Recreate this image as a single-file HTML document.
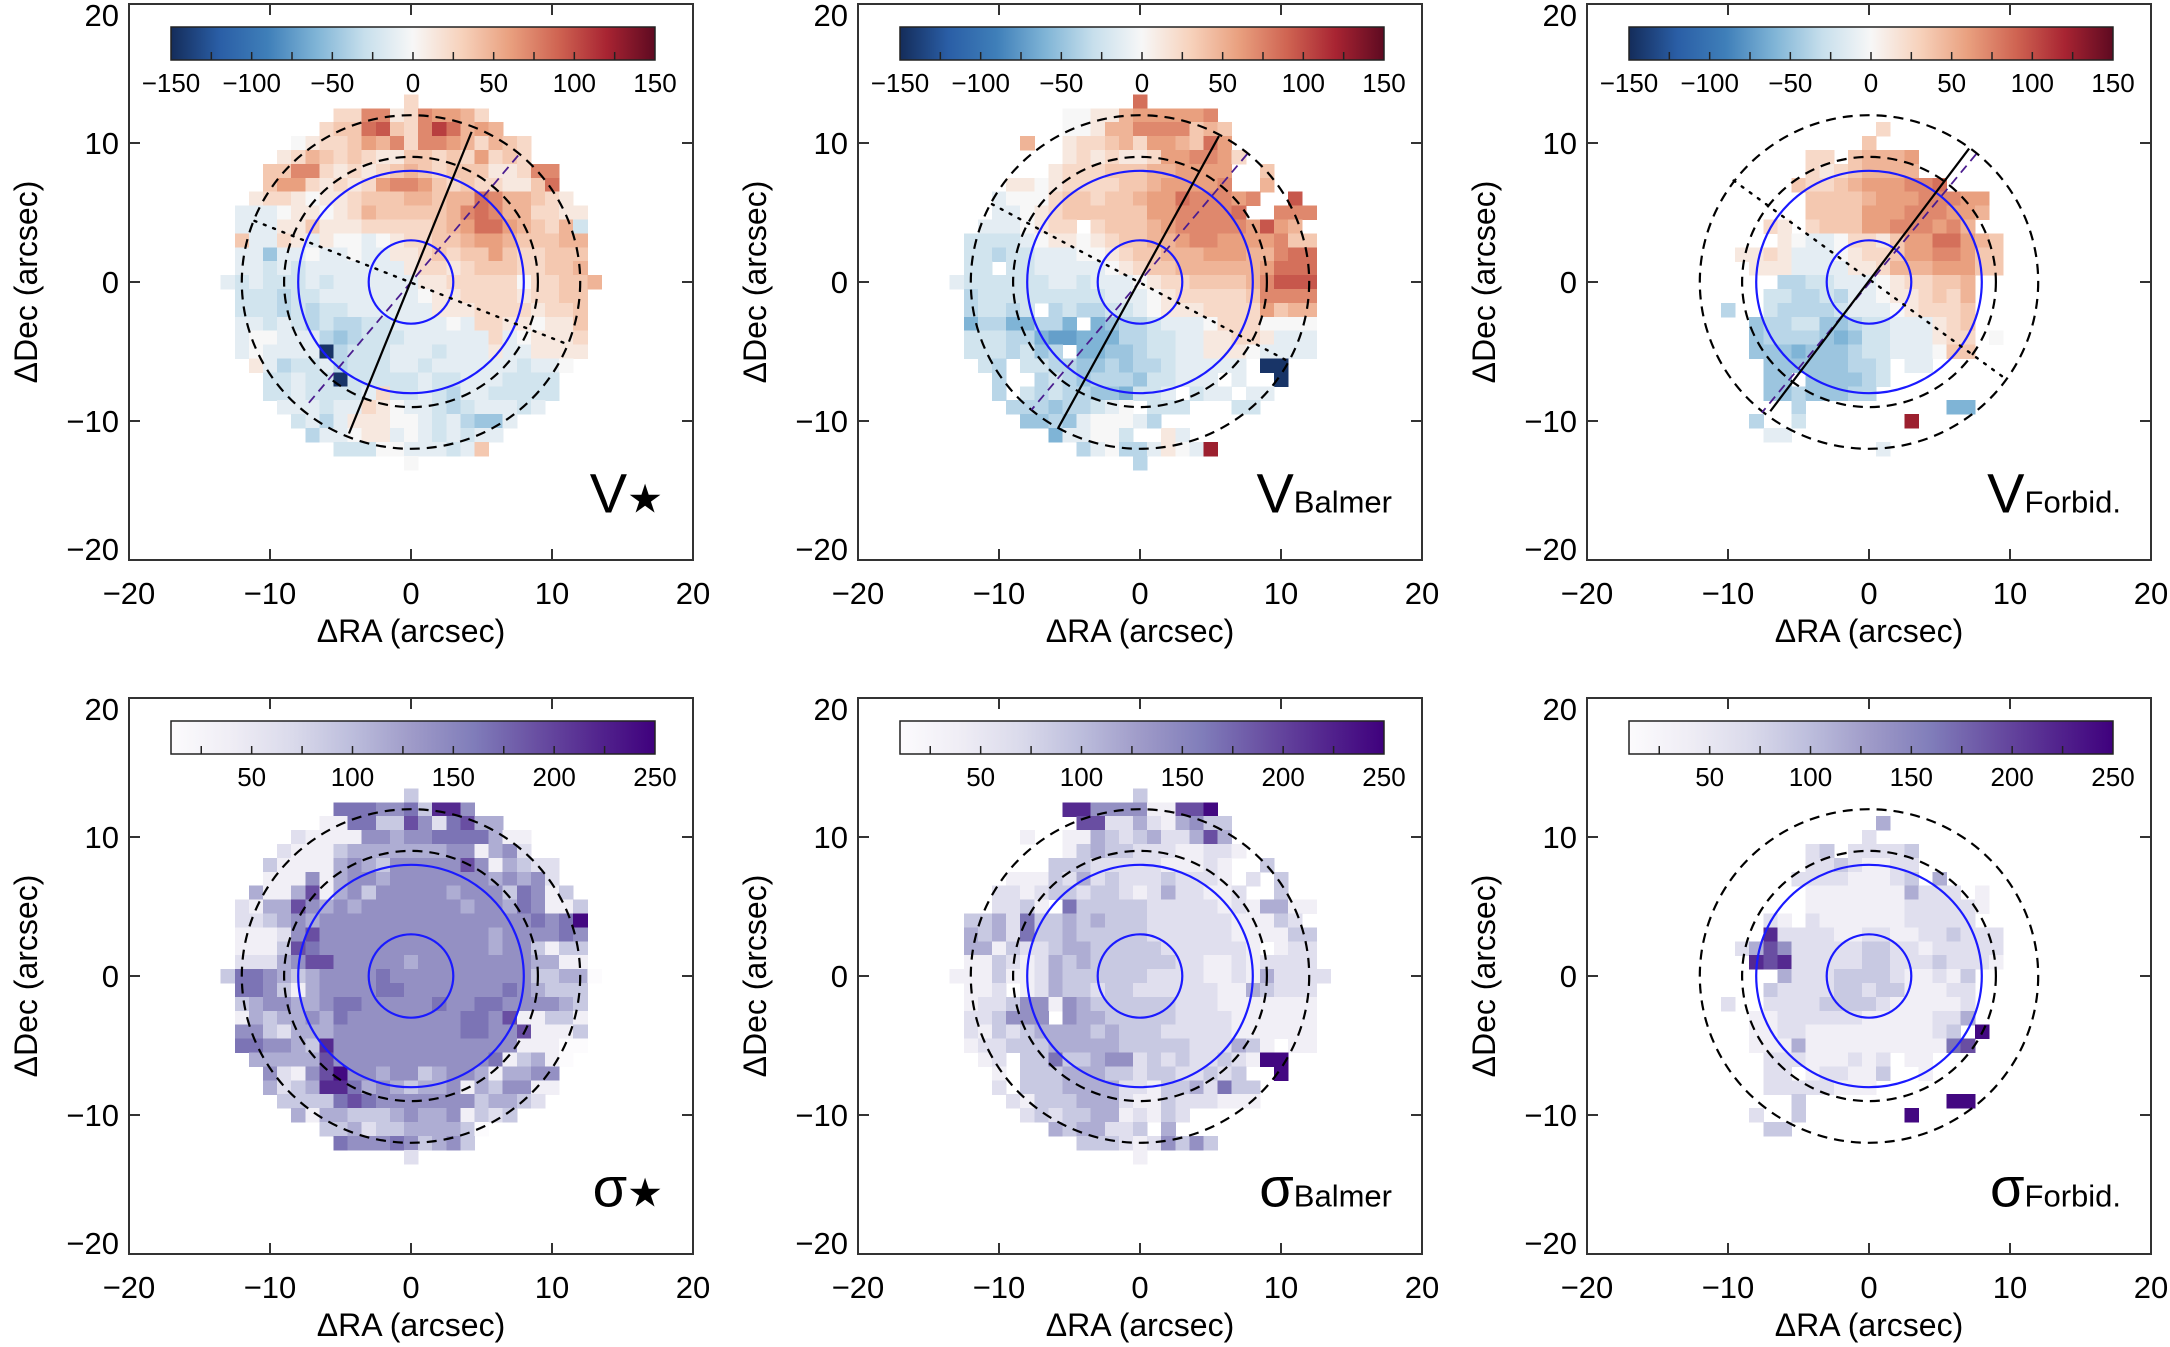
<!DOCTYPE html>
<html><head><meta charset="utf-8"><style>
html,body{margin:0;padding:0;background:#fff;}
svg{display:block;}
text{font-family:"Liberation Sans Narrow","Liberation Sans",sans-serif;fill:#000;}
</style></head><body>
<svg id="fig" xmlns="http://www.w3.org/2000/svg" width="2170" height="1347" viewBox="0 0 2170 1347">
<defs>
<linearGradient id="gv" x1="0" x2="1" y1="0" y2="0">
<stop offset="0" stop-color="#142c5a"/><stop offset="0.1" stop-color="#2a5ea6"/><stop offset="0.2" stop-color="#3f7fb9"/><stop offset="0.3" stop-color="#7fb4d6"/><stop offset="0.4" stop-color="#c7dfec"/><stop offset="0.5" stop-color="#f7f7f7"/><stop offset="0.6" stop-color="#f7d2bc"/><stop offset="0.7" stop-color="#e9a07f"/><stop offset="0.8" stop-color="#cf6452"/><stop offset="0.9" stop-color="#a82432"/><stop offset="1" stop-color="#5e0a21"/>
</linearGradient>
<linearGradient id="gs" x1="0" x2="1" y1="0" y2="0">
<stop offset="0" stop-color="#fcfbfd"/><stop offset="0.125" stop-color="#efedf5"/><stop offset="0.25" stop-color="#dadaeb"/><stop offset="0.375" stop-color="#bcbddc"/><stop offset="0.5" stop-color="#9e9ac8"/><stop offset="0.625" stop-color="#807dba"/><stop offset="0.75" stop-color="#6a51a3"/><stop offset="0.875" stop-color="#54278f"/><stop offset="1" stop-color="#3f007d"/>
</linearGradient>
</defs>
</svg>
<script>
// ---- data: rows from y=13 (top) to y=-13; segments "xStart:levels"
const vStarRows = ["0:2","-5:22661265542","-6:2337832697454","-8:01223546266542432","-9:124323211332325232","-10:336621212343233311266","-10:355212125665323221137","-11:12210112333443447644321","-12:aaa0110124333334676442211","-12:aaa113111222223457754324b","-12:3aa21a100a012233455433344","-12:aadaa0aa0aa11232335322333","-12:aababaaaaaaa1221233322334","-13:ababbbabaaaaaa1122222022334","-12:bbbcbbaaaaaaa011222212233","-12:bbbcbcbbaaaaaa11122221223","-12:aababcbccbbaaaa0a22110113","-12:a00aaacdcbbbaaaaaa2a01112","-12:a0aaaaZcbbbaaabaaa1aa1111","-11:1acbbacbbbaabaaaaaabaa0","-10:bbabbZbbbbbabbaaabbbb","-10:bbabbbba2bbabcaabbbbb","-9:aaabaa210aabcbaaaba","-8:baca11100abacdda","-7:caa011a0ababaa","-5:bbb00aaaba3","0:0"];
const vBalRows = ["0:7","-5:00114555556","-5:001446666343","-8:4 -5:122342554375","-5:1212112556652","-6:1222333445555 9:3","-9:1101222233455556 9:4","-10:a000233233455766656..8","-10:aa0123333335566667..666","-11:aaa0122.233345666665854","-12:bbbba01101233445665555633","-12:bbcbbaaa00123344455544677","-12:bb.bbaaaaa012334444445777","-13:abbbbbbaabaaa0122333346888","-12:cbbbbbbbbbaaa012222236666","-12:cbbcb.cbccbba011122225344","-12:ecceecce.edccbaaa02220000","-12:bbbcceffeeeccbbaa11221aaa","-12:bbbcbdc.eeddcbbaa1110aaaa","-11:bc.bbccddcdccbaaaaa.ZZ","-10:c..cbcdcccdbbaaa.a..Z","-10:c.bcbccddebba.baa.aa","-9:cccdccba0.bbb...bb","-8:ddcda000ac","-6:eaa00b..1a","-4:ca0cca10aR","0:c"];
const vForRows = ["","","1:2","0:3","-4:22.34445","-4:21234444","-5:32234555667","-4:3333455566655","-4:3333555666554","-7:21.233355666564","-6:10aa022135577543","-9:1121aaa012235566533","-8:111aaaa11244455533","-6:ccbbaaa0122334","-7:bbccbcaa0112324","-10:c -7:bccccbaaa012223","-8:dccbbddcbbaaa123","-8:dccccdedbbaaa122.0","-8:dddedddcbbaaa033","-7:ddddddccb.aa","-7:dd.ddddcb","-7:ddcdddcc","-5:c 6:ee","-8:c -5:b 3:R","-7:aa","1:a",""];
const sStarRows = ["0:3","-5:6665563885","-6:1166337526744","-8:21111554556666411","-9:211134444444551452","-10:311114543555557514322","-10:111514554555555545452","-11:41147145355555455536513","-12:2144754545555555455465113","-12:2234545555555555555556569","-12:1112575555555555554555565","-12:1113765555555555554553133","-12:2224577555554555555554411","-13:366543455556555555555533440","-12:6653145555665555555654333","-12:3455445665555565566555543","-12:1434454655555555665711331","-12:5532444555555555665571113","-12:6655438555555555555511100","-11:44444755555555555613410","-10:521579554553455414455","-10:423488645434451435511","-9:3333676555555534432","-8:4144333454451323","-6:334233444430","-5:6555653453","0:2"];
const sBalRows = ["0:3","-5:88555511779","-4:77224214533","-8:1 -5:114323422474","-5:1343322211221","-6:3332222211121 9:3","-9:1113242322232221 8:2 10:3","-10:221233233212422112..3","-10:2231.633333222221214411","-12:334263343433322222211132.","-12:4342633433333222222111133","-12:441322344333332222221.122","-12:1132124343333332211212222","-13:111311243333332222112142222","-12:112.124332332222221143222","-12:1223551543333332221111111","-12:223555.544333332222111111","-12:2132344443433322222111111","-12:1223334444433333222431.11","-11:12.3363345523232232199","-10:1.3334443323322323..9","-10:2.33344442213342633","-9:213334442113222111","-8:232334412132","-6:4344223.4","-4:3332125353","0:1"];
const sForRows = ["","","1:4","0:2","-4:23.22223","-4:22321122","-5:222211123.4","-4:11111114222.1","-4:1111111222221","-7:21.211111122222","-7:82222112211223222","-9:2475222223322122222","-8:878222223322232221","-6:42223333211213","-7:322223323311122","-10:2 -7:222233332111112","-8:1122222211111224","-8:112211111111123.9","-8:1114111111111167","-7:222111212.11","-7:22.122113..1","-7:22222111","-5:3 6:99","-8:2 -5:3 3:9","-7:33","",""];
const axisTicks = [-20,-10,0,10,20];
const vCbTicks = [-150,-100,-50,0,50,100,150];
const sCbTicks = [50,100,150,200,250];
// kinematic axis lines per velocity panel [x1,y1,x2,y2] in arcsec
const solidPA = [[4.3,10.8,-4.4,-10.9],[5.6,10.5,-5.8,-10.5],[7.1,9.6,-7.0,-9.3]];
const dashedPA = [[7.6,9.1,-7.5,-9.0],[7.6,9.2,-7.7,-9.2],[7.6,9.2,-7.6,-9.4]];
const dottedPA = [[-11.1,4.4,10.9,-4.4],[-10.5,5.6,10.5,-5.7],[-9.6,7.3,9.6,-6.9]];
const circleRadii = [3,8];
const dashedRadii = [9,12];

// ---- layout
const NS="http://www.w3.org/2000/svg";
const svg=document.getElementById('fig');
const X0=[411,1140,1869], Y0=[282,976], UX=14.1, UY=13.9;
function mk(tag,attrs,parent){const e=document.createElementNS(NS,tag);for(const k in attrs)e.setAttribute(k,attrs[k]);(parent||svg).appendChild(e);return e;}
function lerpHex(a,b,t){const pa=[1,3,5].map(i=>parseInt(a.substr(i,2),16)),pb=[1,3,5].map(i=>parseInt(b.substr(i,2),16));return 'rgb('+pa.map((v,i)=>Math.round(v+(pb[i]-v)*t)).join(',')+')';}
const vStops=["#142c5a","#2a5ea6","#3f7fb9","#7fb4d6","#c7dfec","#f7f7f7","#f7d2bc","#e9a07f","#cf6452","#a82432","#5e0a21"];
const sStops=["#fcfbfd","#efedf5","#dadaeb","#bcbddc","#9e9ac8","#807dba","#6a51a3","#54278f","#3f007d"];
function cmap(stops,t){t=Math.max(0,Math.min(1,t));const n=stops.length-1,f=t*n,i=Math.min(n-1,Math.floor(f));return lerpHex(stops[i],stops[i+1],f-i);}
function vVal(c){if(c==='Z')return -145;if(c==='R')return 125;if(c>='0'&&c<='9')return (+c)*12;return -12*(c.charCodeAt(0)-96);}
function sVal(c){return 10+(+c)*26;}
const panels=[
 {rows:vStarRows,type:'v',name:'v-star',sym:'V',sub:'★'},
 {rows:vBalRows,type:'v',name:'v-balmer',sym:'V',sub:'Balmer'},
 {rows:vForRows,type:'v',name:'v-forbidden',sym:'V',sub:'Forbid.'},
 {rows:sStarRows,type:'s',name:'sigma-star',sym:'σ',sub:'★'},
 {rows:sBalRows,type:'s',name:'sigma-balmer',sym:'σ',sub:'Balmer'},
 {rows:sForRows,type:'s',name:'sigma-forbidden',sym:'σ',sub:'Forbid.'}];
panels.forEach((P,pi)=>{
 const col=pi%3,row=Math.floor(pi/3);
 const sx=x=>X0[col]+x*UX, sy=y=>Y0[row]-y*UY;
 const g=mk('g',{});
 
 
 const hm=mk('g',{'shape-rendering':'crispEdges'},g);
 
 
 P.rows.forEach((r,ri)=>{
  const y=13-ri; if(!r)return;
  r.split(' ').forEach(seg=>{
   const k=seg.indexOf(':'),x0=parseInt(seg.slice(0,k)),chars=seg.slice(k+1);
   for(let i=0;i<chars.length;i++){const c=chars[i];if(c==='.')continue;const x=x0+i;
    const fill=P.type==='v'?cmap(vStops,(vVal(c)+150)/300):cmap(sStops,(sVal(c)-10)/240);
    const rc=mk('rect',{x:(sx(x-0.5)).toFixed(1),y:(sy(y+0.5)).toFixed(1),width:UX+0.6,height:UY+0.6,fill:fill},hm);
    
    
   }
  });
 });
 dashedRadii.forEach(r=>{const e=mk('ellipse',{cx:sx(0),cy:sy(0),rx:r*UX,ry:r*UY,fill:'none',stroke:'#000','stroke-width':2.2,'stroke-dasharray':'10 7'},g);
  
  });
 circleRadii.forEach(r=>{const e=mk('ellipse',{cx:sx(0),cy:sy(0),rx:r*UX,ry:r*UY,fill:'none',stroke:'#1a1aff','stroke-width':2.2},g);
  
  });
 if(P.type==='v'){
  const d=dottedPA[col],s=solidPA[col],p=dashedPA[col];
  const l1=mk('line',{x1:sx(d[0]),y1:sy(d[1]),x2:sx(d[2]),y2:sy(d[3]),stroke:'#000','stroke-width':2.4,'stroke-dasharray':'2 8','stroke-linecap':'round'},g);
  
  
  const l2=mk('line',{x1:sx(p[0]),y1:sy(p[1]),x2:sx(p[2]),y2:sy(p[3]),stroke:'#4b1d8f','stroke-width':1.8,'stroke-dasharray':'9 6'},g);
  
  
  const l3=mk('line',{x1:sx(s[0]),y1:sy(s[1]),x2:sx(s[2]),y2:sy(s[3]),stroke:'#000','stroke-width':2.2},g);
  
  
 }
 const L=sx(-20),R=sx(20),T=sy(20),B=sy(-20);
 const fr=mk('rect',{x:L,y:T,width:R-L,height:B-T,fill:'none',stroke:'#333','stroke-width':2},g);
 
 
 axisTicks.forEach(t=>{
  if(Math.abs(t)<20){
   mk('line',{x1:sx(t),x2:sx(t),y1:B,y2:B-11,stroke:'#333','stroke-width':2},g);
   mk('line',{x1:sx(t),x2:sx(t),y1:T,y2:T+11,stroke:'#333','stroke-width':2},g);
   mk('line',{x1:L,x2:L+11,y1:sy(t),y2:sy(t),stroke:'#333','stroke-width':2},g);
   mk('line',{x1:R,x2:R-11,y1:sy(t),y2:sy(t),stroke:'#333','stroke-width':2},g);
  }
  const lab=(t<0?'\u2212':'')+Math.abs(t);
  const tx=mk('text',{x:sx(t),y:B+44,'font-size':31,'text-anchor':'middle'},g);tx.textContent=lab;
  
  
  const shift=t===20?11:(t===-20?-11:0);
  const ty=mk('text',{x:L-10,y:sy(t)+11+shift,'font-size':31,'text-anchor':'end'},g);ty.textContent=lab;
  
  
 });
 const xt=mk('text',{x:sx(0),y:B+82,'font-size':32,'text-anchor':'middle'},g);xt.textContent='\u0394RA (arcsec)';
 
 
 const yt=mk('text',{x:0,y:0,'font-size':32,'text-anchor':'middle',transform:'translate('+(L-92)+','+sy(0)+') rotate(-90)'},g);yt.textContent='\u0394Dec (arcsec)';
 
 
 const pl=mk('text',{x:R-30,y:sy(-16.6),'text-anchor':'end'},g);
 
 
 const t1=mk('tspan',{'font-size':56},pl);t1.textContent=P.sym;
 const t2=mk('tspan',{'font-size':P.sub==='★'?40:31,dy:0},pl);t2.textContent=P.sub;
 const cbL=X0[col]-240,cbR=X0[col]+244,cbT=Y0[row]-255,cbB=Y0[row]-222;
 const cb=mk('rect',{x:cbL,y:cbT,width:cbR-cbL,height:cbB-cbT,fill:P.type==='v'?'url(#gv)':'url(#gs)',stroke:'#222','stroke-width':1.5},g);
 
 
 const lo=P.type==='v'?-150:10,hi=P.type==='v'?150:250;
 const cx=v=>cbL+(v-lo)/(hi-lo)*(cbR-cbL);
 const ticks=P.type==='v'?vCbTicks:sCbTicks;
 for(let v=(P.type==='v'?-125:25);v<hi;v+=25){if(v<=lo)continue;mk('line',{x1:cx(v),x2:cx(v),y1:cbB,y2:cbB-8,stroke:'#222','stroke-width':1.5},g);}
 ticks.forEach(v=>{const t=mk('text',{x:cx(v),y:cbB+32,'font-size':26,'text-anchor':'middle'},g);t.textContent=(v<0?'\u2212':'')+Math.abs(v);
  
  });
});
</script>
</body></html>
